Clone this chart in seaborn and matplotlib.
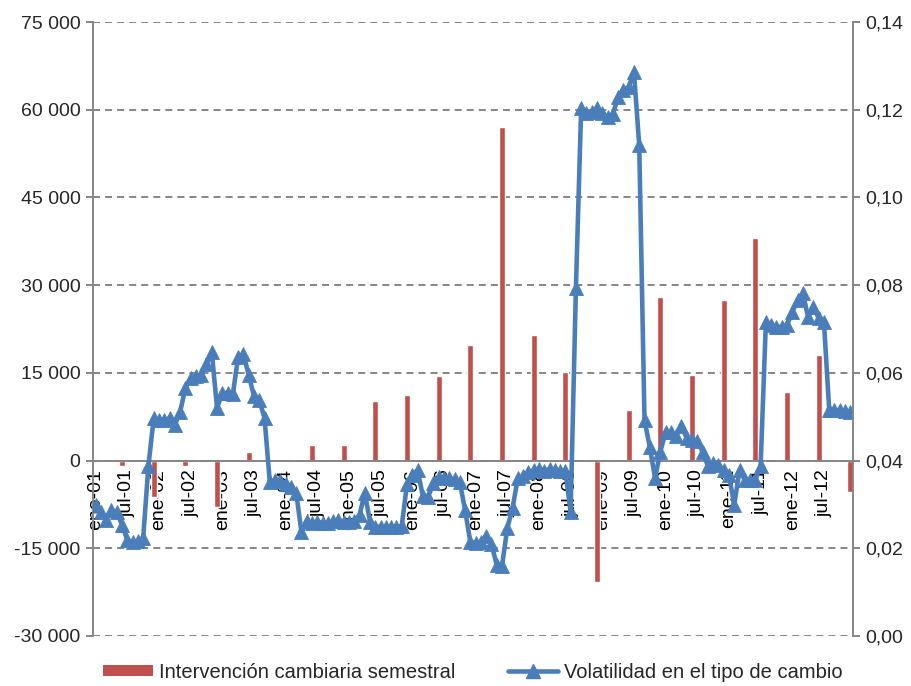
import matplotlib
matplotlib.use("Agg")
import matplotlib.pyplot as plt
from matplotlib.patches import Patch
from matplotlib.lines import Line2D
from matplotlib.ticker import FixedLocator, FuncFormatter
import numpy as np
import pandas as pd
import seaborn as sns

sns.set_theme(style="white")
plt.rcParams["font.family"] = ["Liberation Sans", "DejaVu Sans"]

# Monthly periods, Jan 2001 - Dec 2012
month_names = ["ene", "feb", "mar", "abr", "may", "jun",
               "jul", "ago", "sep", "oct", "nov", "dic"]
years = list(range(1, 13))
periods = [f"{m}-{y:02d}" for y in years for m in month_names]

# Exchange-rate volatility (right axis), one value per month
vol_2001 = [0.0299, 0.0283, 0.0264, 0.0287, 0.0283, 0.0253, 0.0219, 0.0214, 0.0217, 0.0223, 0.0388, 0.0497]
vol_2002 = [0.0492, 0.0492, 0.0497, 0.0481, 0.0511, 0.0565, 0.0588, 0.0593, 0.0595, 0.0620, 0.0648, 0.0520]
vol_2003 = [0.0554, 0.0554, 0.0552, 0.0636, 0.0643, 0.0595, 0.0547, 0.0538, 0.0497, 0.0351, 0.0356, 0.0353]
vol_2004 = [0.0347, 0.0340, 0.0326, 0.0237, 0.0262, 0.0258, 0.0260, 0.0258, 0.0258, 0.0262, 0.0264, 0.0260]
vol_2005 = [0.0260, 0.0262, 0.0276, 0.0326, 0.0260, 0.0249, 0.0249, 0.0249, 0.0249, 0.0249, 0.0251, 0.0347]
vol_2006 = [0.0367, 0.0378, 0.0319, 0.0317, 0.0349, 0.0363, 0.0360, 0.0360, 0.0358, 0.0351, 0.0287, 0.0214]
vol_2007 = [0.0212, 0.0214, 0.0228, 0.0210, 0.0162, 0.0160, 0.0246, 0.0292, 0.0360, 0.0365, 0.0374, 0.0378]
vol_2008 = [0.0381, 0.0376, 0.0381, 0.0378, 0.0376, 0.0376, 0.0283, 0.0793, 0.1204, 0.1192, 0.1195, 0.1204]
vol_2009 = [0.1192, 0.1183, 0.1190, 0.1229, 0.1245, 0.1252, 0.1286, 0.1119, 0.0492, 0.0431, 0.0360, 0.0420]
vol_2010 = [0.0465, 0.0465, 0.0456, 0.0479, 0.0451, 0.0447, 0.0445, 0.0420, 0.0388, 0.0394, 0.0390, 0.0378]
vol_2011 = [0.0367, 0.0299, 0.0378, 0.0356, 0.0356, 0.0356, 0.0388, 0.0716, 0.0709, 0.0705, 0.0705, 0.0709]
vol_2012 = [0.0739, 0.0766, 0.0782, 0.0727, 0.0750, 0.0725, 0.0716, 0.0515, 0.0515, 0.0515, 0.0513, 0.0511]
volatility = (vol_2001 + vol_2002 + vol_2003 + vol_2004 + vol_2005 + vol_2006 +
              vol_2007 + vol_2008 + vol_2009 + vol_2010 + vol_2011 + vol_2012)

# Semi-annual FX intervention (left axis), reported in June and December
intervention_periods = [f"{m}-{y:02d}" for y in years for m in ("jun", "dic")]
intervention = [-850, -6300, -900, -8000, 1500, 0, 2600, 2700,
                10200, 11200, 14400, 19800, 57000, 21500, 15100, -20700,
                8600, 27900, 14600, 27400, 38100, 11800, 18100, -5400]

tick_labels = [f"{m}-{y:02d}" for y in years for m in ("ene", "jul")]

bar_label = "Intervención cambiaria semestral"
line_label = "Volatilidad en el tipo de cambio"

bar_color = "#C0504D"
line_color = "#4A7EBB"
axis_grey = "#868686"

df_bar = pd.DataFrame({
    "pos": [periods.index(p) for p in intervention_periods],
    "value": intervention,
})
df_line = pd.DataFrame({"pos": np.arange(len(periods)), "vol": volatility})

fig = plt.figure(figsize=(9.11, 6.86), dpi=100)
ax = fig.add_axes([0.1021, 0.0729, 0.8342, 0.8950])

sns.barplot(data=df_bar, x="pos", y="value", native_scale=True, width=0.19,
            color=bar_color, saturation=1, errorbar=None, ax=ax, zorder=2)

ax2 = ax.twinx()
sns.lineplot(data=df_line, x="pos", y="vol", ax=ax2, color=line_color,
             lw=3.3, marker="^", markersize=9.5, markeredgewidth=0.6,
             markeredgecolor=line_color, legend=False)

# Left axis
ax.set_xlim(-0.5, len(periods) - 0.5)
ax.set_ylim(-30000, 75000)
ax.set_yticks(np.arange(-30000, 75001, 15000))
ax.yaxis.set_major_formatter(FuncFormatter(lambda v, _: f"{int(v):,}".replace(",", " ")))
ax.yaxis.grid(True, linestyle=(0, (3.6, 2.6)), color=axis_grey, lw=1.4)
ax.set_axisbelow(True)
ax.set_xlabel("")
ax.set_ylabel("")

# Category axis crossing at zero
ax.spines["bottom"].set_position(("data", 0))
ax.spines["bottom"].set_color(axis_grey)
ax.spines["bottom"].set_linewidth(1.4)
ax.spines["left"].set_color(axis_grey)
ax.spines["left"].set_linewidth(1.4)
ax.spines["top"].set_visible(False)
ax.spines["right"].set_visible(False)

ax.xaxis.set_major_locator(FixedLocator([periods.index(t) for t in tick_labels]))
ax.set_xticklabels(tick_labels, rotation=90, va="top", ha="center")
ax.xaxis.set_minor_locator(FixedLocator(np.arange(-0.5, len(periods), 6)))
ax.tick_params(axis="x", which="major", length=0, pad=6, labelsize=14, colors="black")
ax.tick_params(axis="x", which="minor", length=5, width=1.4, color=axis_grey, direction="out")
ax.tick_params(axis="y", length=5, width=1.4, color=axis_grey, direction="out",
               labelsize=14, pad=4)

# Right axis
ax2.set_ylim(0, 0.14)
ax2.set_yticks(np.arange(0, 0.1401, 0.02))
ax2.yaxis.set_major_formatter(FuncFormatter(lambda v, _: f"{v:.2f}".replace(".", ",")))
ax2.grid(False)
ax2.set_ylabel("")
ax2.set_xlabel("")
for side in ("left", "top", "bottom"):
    ax2.spines[side].set_visible(False)
ax2.spines["right"].set_color(axis_grey)
ax2.spines["right"].set_linewidth(1.4)
ax2.tick_params(axis="y", length=5, width=1.4, color=axis_grey, direction="out",
                labelsize=14, pad=4)
ax2.tick_params(axis="x", length=0, labelbottom=False)

handles = [
    Patch(facecolor=bar_color, edgecolor="none"),
    Line2D([], [], color=line_color, lw=3.3, marker="^", markersize=9.5),
]
fig.legend(handles, [bar_label, line_label], loc="center",
           bbox_to_anchor=(0.519, 0.02), ncol=2, frameon=False, fontsize=14.5,
           handlelength=2.5, handleheight=0.5, handletextpad=0.3,
           columnspacing=2.6)

fig.savefig("out.png", dpi=100)
